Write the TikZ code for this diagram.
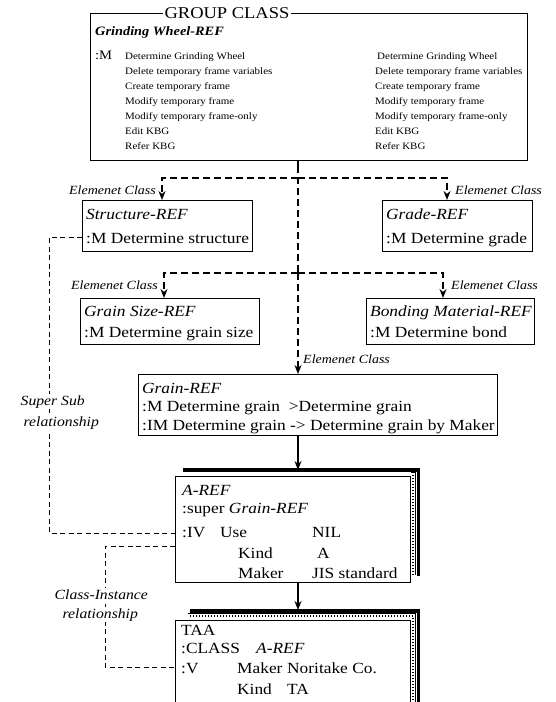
\documentclass[tikz,border=0pt]{standalone}
\usepackage{fontspec}
\setmainfont{Liberation Serif}[FakeStretch=1.12]
\usetikzlibrary{arrows.meta}
\begin{document}
\begin{tikzpicture}[x=1pt,y=-1pt]
\tikzset{
 box/.style={draw, line width=0.9pt, fill=white, inner sep=0pt, anchor=north west},
 t/.style={anchor=base west, inner sep=0pt},
 small/.style={t, font=\fontsize{9.8}{11}\selectfont},
 body/.style={t, font=\fontsize{15.5}{18}\selectfont},
 ibody/.style={t, font=\fontsize{15.5}{18}\selectfont\itshape},
 elab/.style={inner sep=0pt, font=\fontsize{12.5}{14}\selectfont\itshape},
 thickdash/.style={line width=1.6pt, dash pattern=on 7pt off 4pt},
 thindash/.style={line width=0.7pt, dash pattern=on 5pt off 3.5pt},
 arr/.style={-{Stealth[length=9pt,width=7pt]}},
 rel/.style={font=\fontsize{14}{16}\selectfont\itshape, fill=white, inner sep=1.5pt, anchor=base west},
 shadowline/.style={line width=3.4pt, line cap=butt},
 dotstrip/.style={line width=1.2pt, dash pattern=on 1pt off 2pt},
}
\useasboundingbox (0,0) rectangle (555,702);
\clip (0,0) rectangle (555,702);
\fill[white] (0,0) rectangle (555,702);

% ---------- top group class box
\node[box, minimum width=437pt, minimum height=147pt] (top) at (90,13) {};
\node[fill=white, inner sep=2pt, font=\fontsize{16.5}{18}\selectfont] (gc) at (227,13) {GROUP CLASS};
\node[t, font=\fontsize{12.8}{14}\selectfont\bfseries\itshape] (gwt) at (95,35) {Grinding Wheel-REF};
\node[t, font=\fontsize{13}{15}\selectfont] (gm) at (95,59.5) {:M};
\node[small] (l1) at (125,59) {Determine Grinding Wheel};
\node[small] (l2) at (125,74) {Delete temporary frame variables};
\node[small] (l3) at (125,89.5) {Create temporary frame};
\node[small] (l4) at (125,104.5) {Modify temporary frame};
\node[small] (l5) at (125,119.5) {Modify temporary frame-only};
\node[small] (l6) at (125,134.5) {Edit KBG};
\node[small] (l7) at (125,149.5) {Refer KBG};
\node[small] (r1) at (377,59) {Determine Grinding Wheel};
\node[small] (r2) at (375,74) {Delete temporary frame variables};
\node[small] (r3) at (375,89.5) {Create temporary frame};
\node[small] (r4) at (375,104.5) {Modify temporary frame};
\node[small] (r5) at (375,119.5) {Modify temporary frame-only};
\node[small] (r6) at (375,134.5) {Edit KBG};
\node[small] (r7) at (375,149.5) {Refer KBG};

% ---------- element class boxes
\node[box, minimum width=170pt, minimum height=51pt] (structure) at (82,200) {};
\node[ibody] (st1) at (86,219) {Structure-REF};
\node[body] (st2) at (86,243) {:M Determine structure};

\node[box, minimum width=150pt, minimum height=51pt] (grade) at (382,200) {};
\node[ibody] (gr1) at (386,219) {Grade-REF};
\node[body] (gr2) at (386,243) {:M Determine grade};

\node[box, minimum width=179pt, minimum height=46pt] (gsize) at (80,298) {};
\node[ibody] (gs1) at (84,316) {Grain Size-REF};
\node[body] (gs2) at (84,337) {:M Determine grain size};

\node[box, minimum width=168pt, minimum height=46pt] (bond) at (366,298) {};
\node[ibody] (bd1) at (370,316) {Bonding Material-REF};
\node[body] (bd2) at (370,337) {:M Determine bond};

\node[box, minimum width=359pt, minimum height=61pt] (grain) at (138,374) {};
\node[ibody] (gn1) at (142,393) {Grain-REF};
\node[body] (gn2) at (142,411) {:M Determine grain\ \ >Determine grain};
\node[body] (gn3) at (142,430) {:IM Determine grain -> Determine grain by Maker};

% ---------- A-REF card with shadow
\fill[white] (182,470) rectangle (417,575);
\draw[dotstrip] (413,475) -- (413,575);
\draw[line width=0.6pt] (410.5,472.5) -- (415.5,472.5) (415.5,472.5) -- (415.5,575);
\draw[shadowline] (183,470) -- (418.5,470) -- (418.5,576);
\node[box, minimum width=235pt, minimum height=106pt] (aref) at (175,476) {};
\node[ibody] (ar1) at (182,495) {A-REF};
\node[body] (ar2) at (182,513) {:super \textit{Grain-REF}};
\node[body] (ar3) at (182,537) {:IV};
\node[body] (ar4) at (220,537) {Use};
\node[body] (ar5) at (312,537) {NIL};
\node[body] (ar6) at (238,558) {Kind};
\node[body] (ar7) at (317,558) {A};
\node[body] (ar8) at (238,578) {Maker};
\node[body] (ar9) at (312,578) {JIS standard};

% ---------- TAA card with shadow
\fill[white] (182,611) rectangle (417,710);
\draw[dotstrip] (190,616) -- (413,616) -- (413,710);
\draw[line width=0.6pt] (188,613.5) -- (415.5,613.5) -- (415.5,710);
\draw[shadowline] (190,611) -- (418.5,611) -- (418.5,710);
\node[box, minimum width=235pt, minimum height=100pt] (taa) at (175,620) {};
\node[body] (ta1) at (181,635) {TAA};
\node[body] (ta2) at (181,653) {:CLASS};
\node[ibody] (ta3) at (256,653) {A-REF};
\node[body] (ta4) at (181,673) {:V};
\node[body] (ta5) at (237,673) {Maker};
\node[body] (ta6) at (287,673) {Noritake Co.};
\node[body] (ta7) at (237,694) {Kind};
\node[body] (ta8) at (287,694) {TA};

% ---------- thick dashed element-class connectors
\coordinate (j1) at (298,178);
\coordinate (j2) at (298,273);
\coordinate (a1) at (162,178);
\coordinate (a2) at (447,178);
\coordinate (a3) at (164,273);
\coordinate (a4) at (443,273);
\draw[line width=1.6pt] (j1 |- top.south) -- ++(0,6);
\draw[thickdash] (298,166) -- (j2);
\draw[thickdash, arr] (j2) -- (j2 |- grain.north);
\draw[thickdash, arr] (j1) -- (a1) -- (a1 |- structure.north);
\draw[thickdash, arr] (j1) -- (a2) -- (a2 |- grade.north);
\draw[thickdash, arr] (j2) -- (a3) -- (a3 |- gsize.north);
\draw[thickdash, arr] (j2) -- (a4) -- (a4 |- bond.north);

\node[elab, anchor=east] (e1) at (156,190) {Elemenet Class};
\node[elab, anchor=west] (e2) at (455,190) {Elemenet Class};
\node[elab, anchor=east] (e3) at (158,285) {Elemenet Class};
\node[elab, anchor=west] (e4) at (451,285) {Elemenet Class};
\node[elab, anchor=west] (e5) at (303,359) {Elemenet Class};

% ---------- solid arrows
\draw[line width=1.2pt, arr] (grain.south -| j1) -- (298,470);
\draw[line width=1.2pt, arr] (aref.south -| j1) -- (298,610);

% ---------- relationships
\coordinate (s1) at (49,237);
\coordinate (s2) at (49,533);
\draw[thindash] (structure.west |- s1) -- (s1) -- (s2) -- (aref.west |- s2);
\node[rel] (ss1) at (19,405) {Super Sub};
\node[rel] (ss2) at (22,426) {relationship};

\coordinate (c1) at (105,546);
\coordinate (c2) at (105,667);
\draw[thindash] (aref.west |- c1) -- (c1) -- (c2) -- (taa.west |- c2);
\node[rel] (ci1) at (53,599) {Class-Instance};
\node[rel] (ci2) at (61,618) {relationship};
\end{tikzpicture}
\end{document}
